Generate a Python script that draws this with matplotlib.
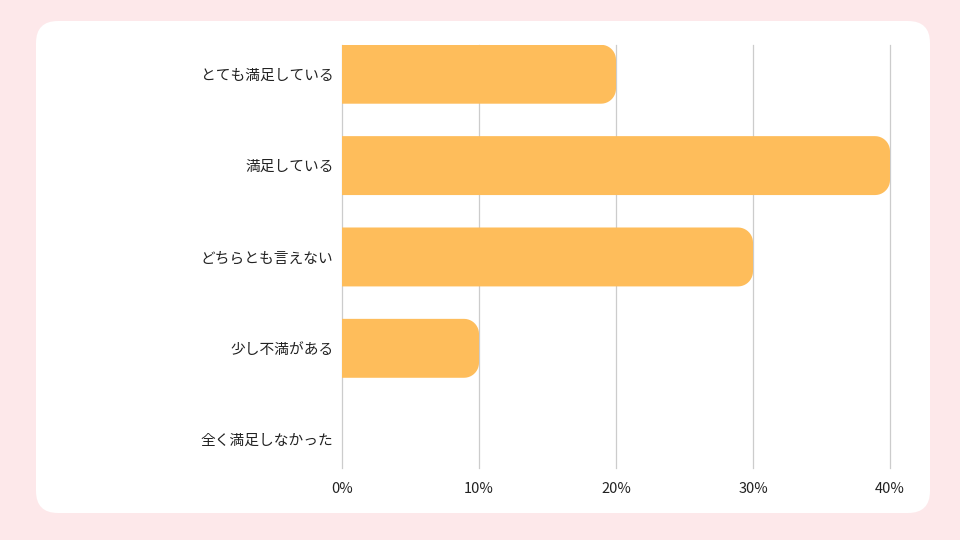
import numpy as np
import matplotlib.pyplot as plt
from matplotlib.patches import FancyBboxPatch, PathPatch
from matplotlib.path import Path
from matplotlib.transforms import IdentityTransform

plt.rcParams['font.family'] = ['Noto Sans CJK JP', 'DejaVu Sans']

# data
categories = ['とても満足している', '満足している', 'どちらとも言えない', '少し不満がある', '全く満足しなかった']
values = [20, 40, 30, 10, 0]
xticks = [0, 10, 20, 30, 40]
xticklabels = ['0%', '10%', '20%', '30%', '40%']

bar_color = '#FEBD5B'
bg_color = '#FDE8EA'

fig = plt.figure(figsize=(9.6, 5.4), dpi=100)
fig.patch.set_facecolor(bg_color)

# white card (pixel coords)
card = FancyBboxPatch((36, 27), 894, 492, boxstyle='round,pad=0,rounding_size=22',
                      transform=IdentityTransform(), facecolor='white', edgecolor='none', zorder=0)
fig.add_artist(card)

ax = fig.add_axes([342/960, 1 - 468/540, (890 - 342)/960, (468 - 45)/540])
ax.set_facecolor('none')
ax.set_xlim(0, 40)
ax.set_ylim(4.31, -0.32)

# bar with rounded right end; radius given in pixels
px_x = (890 - 342) / 40
px_y = 91.5
rx = 15 / px_x
ry = 15 / px_y
h = 0.645


def rounded_bar(y, w):
    y0, y1 = y - h/2, y + h/2
    t = np.linspace(0, np.pi/2, 12)
    # corner near y0
    c0 = [(w - rx + rx*np.sin(a), y0 + ry - ry*np.cos(a)) for a in t]
    c1 = [(w - rx + rx*np.cos(a), y1 - ry + ry*np.sin(a)) for a in t]
    pts = [(0, y0)] + c0 + c1 + [(0, y1), (0, y0)]
    return Path(pts, closed=True)


for i, v in enumerate(values):
    if v <= 0:
        continue
    ax.add_patch(PathPatch(rounded_bar(i, v), facecolor=bar_color, edgecolor='none', zorder=2))

ax.set_yticks(range(len(categories)))
ax.set_yticklabels(categories, fontsize=10.6, color='#222222')
ax.set_xticks(xticks)
ax.set_xticklabels(xticklabels, fontsize=10.5, color='#222222')
ax.tick_params(axis='both', length=0)
ax.tick_params(axis='y', pad=6)
ax.tick_params(axis='x', pad=10)
ax.grid(axis='x', color='#cccccc', linewidth=0.9, zorder=1)
for gl in ax.get_xgridlines():
    gl.set_clip_on(False)
ax.set_axisbelow(True)
for s in ax.spines.values():
    s.set_visible(False)

fig.savefig('out.png', dpi=100, facecolor=bg_color)
